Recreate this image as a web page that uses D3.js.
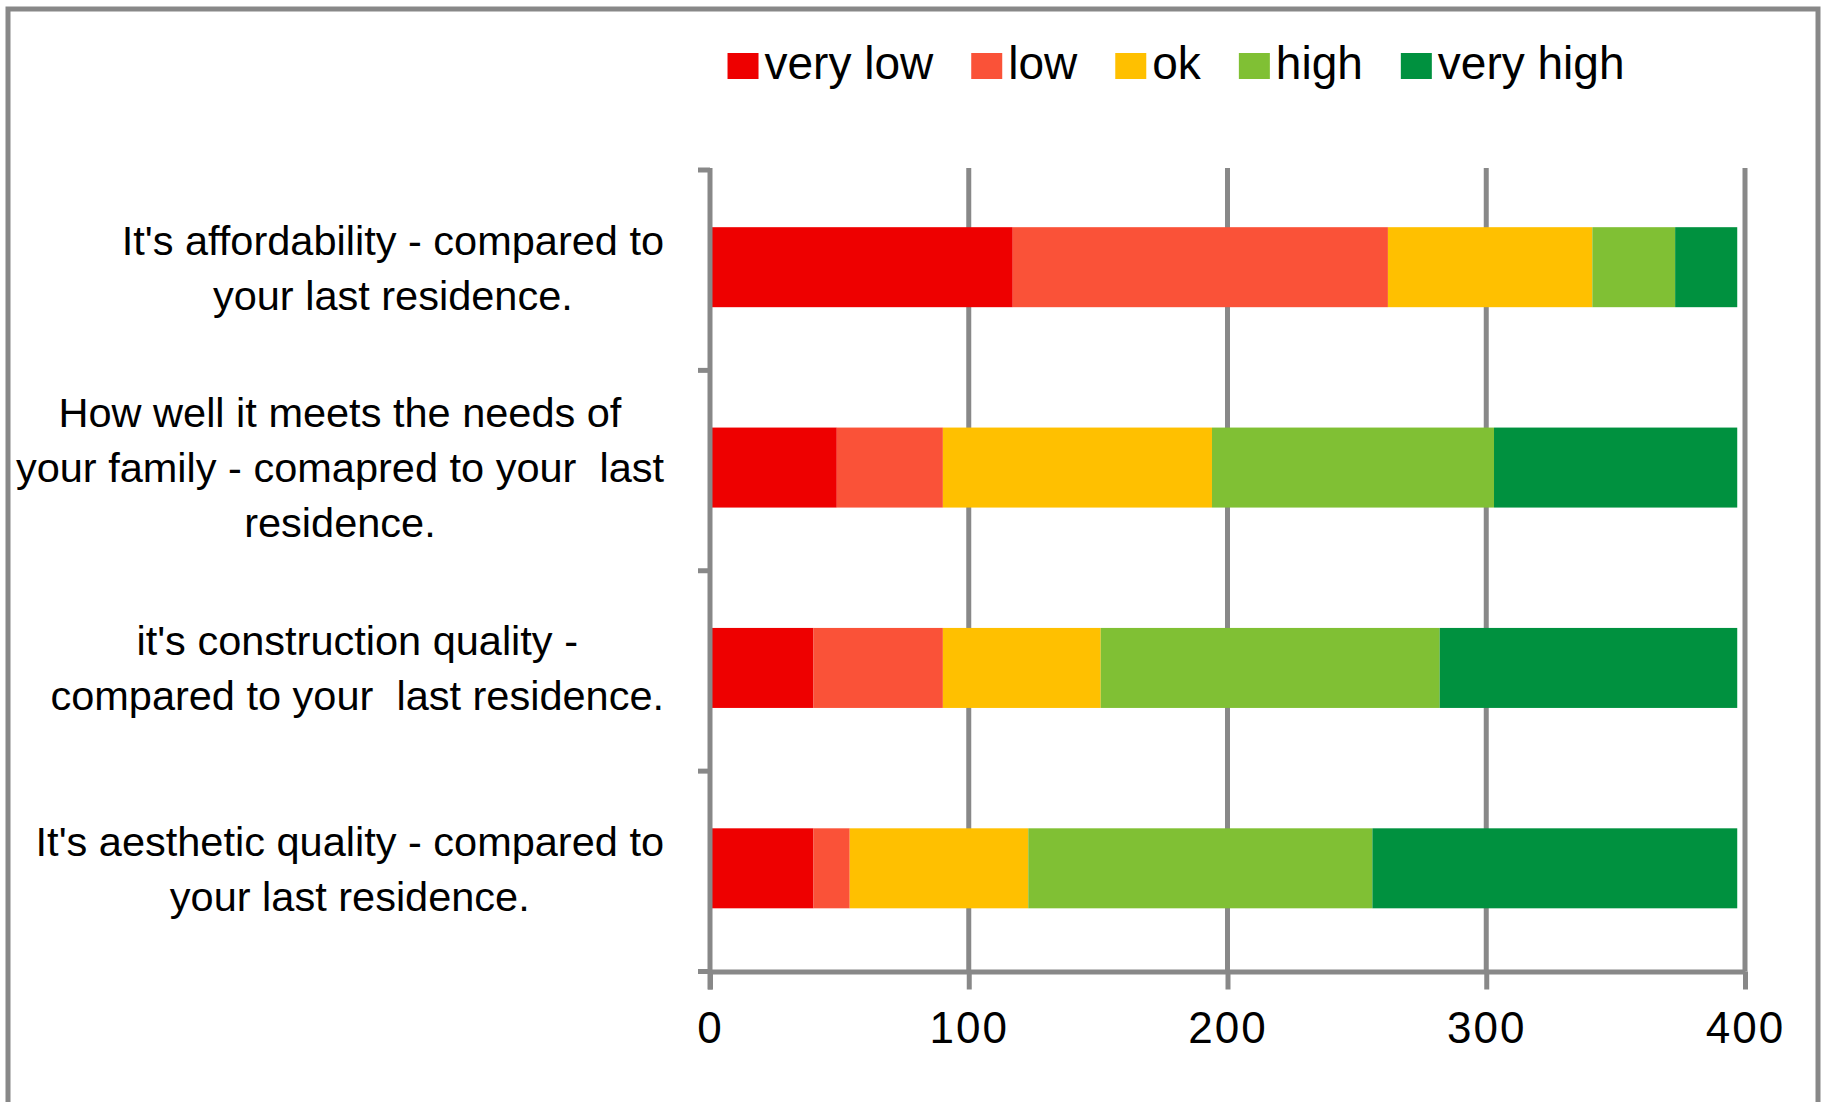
<!DOCTYPE html>
<html>
<head>
<meta charset="utf-8">
<script src="https://cdn.jsdelivr.net/npm/d3@7/dist/d3.min.js"></script>
<style>
  html, body { margin: 0; padding: 0; background: #fff; }
  svg { display: block; }
  text { font-family: "Liberation Sans", Arial, sans-serif; fill: #000; }
</style>
</head>
<body>
<svg id="chart" width="1823" height="1102"></svg>
<script>
// ---- data ----
const categories = [
  "It's affordability - compared to your last residence.",
  "How well it meets the needs of your family - comapred to your  last residence.",
  "it's construction quality - compared to your  last residence.",
  "It's aesthetic quality - compared to your last residence."
];
const categoryLines = [
  ["It's affordability - compared to", "your last residence."],
  ["How well it meets the needs of", "your family - comapred to your  last", "residence."],
  ["it's construction quality -", "compared to your  last residence."],
  ["It's aesthetic quality - compared to", "your last residence."]
];
const seriesNames = ["very low", "low", "ok", "high", "very high"];
const veryLow  = [117, 49, 40, 40];
const low      = [145, 41, 50, 14];
const ok       = [79, 104, 61, 69];
const high     = [32, 109, 131, 133];
const veryHigh = [24, 94, 115, 141];
const xTicks = [0, 100, 200, 300, 400];
const colors = ["#EE0000", "#FA5238", "#FFC000", "#80C034", "#00913F"];

const seriesValues = [veryLow, low, ok, high, veryHigh];
const table = categories.map((c, i) => {
  const row = { cat: c };
  seriesNames.forEach((s, j) => row[s] = seriesValues[j][i]);
  return row;
});

// ---- layout ----
const svg = d3.select("#chart");
const plot = { left: 710, right: 1745, top: 170, bottom: 971.5 };
const gray = "#888888";

// chart border
svg.append("rect")
  .attr("x", 8).attr("y", 9).attr("width", 1810).attr("height", 1120)
  .attr("fill", "none").attr("stroke", gray).attr("stroke-width", 5);

const x = d3.scaleLinear().domain([0, 400]).range([plot.left, plot.right]);
const y = d3.scaleBand().domain(categories).range([plot.top, plot.bottom]).padding(0);
const barH = 80;

// gridlines
svg.append("g").selectAll("line").data(xTicks.filter(t => t > 0)).join("line")
  .attr("x1", d => x(d)).attr("x2", d => x(d))
  .attr("y1", plot.top - 2).attr("y2", plot.bottom)
  .attr("stroke", gray).attr("stroke-width", 5);

// stacked bars
const stack = d3.stack().keys(seriesNames);
const stacked = stack(table);
svg.append("g").selectAll("g").data(stacked).join("g")
  .attr("fill", (d, i) => colors[i])
  .selectAll("rect").data(d => d).join("rect")
  .attr("x", d => x(d[0]))
  .attr("width", d => x(d[1]) - x(d[0]))
  .attr("y", d => y(d.data.cat) + y.bandwidth() / 2 - barH / 2 - 3)
  .attr("height", barH);

// x axis
const xAxis = d3.axisBottom(x).tickValues(xTicks).tickSizeInner(18).tickSizeOuter(0).tickPadding(22);
const gx = svg.append("g").attr("transform", `translate(0,${plot.bottom})`).call(xAxis);
gx.select(".domain").attr("stroke", gray).attr("stroke-width", 5);
gx.selectAll(".tick line").attr("stroke", gray).attr("stroke-width", 5);
gx.selectAll(".tick text")
  .style("font-family", '"Liberation Sans", Arial, sans-serif')
  .attr("font-size", 44).attr("fill", "#000").attr("letter-spacing", 2);
// axis extension to the left (bottom category tick)
svg.append("line")
  .attr("x1", plot.left - 12).attr("x2", plot.left)
  .attr("y1", plot.bottom).attr("y2", plot.bottom)
  .attr("stroke", gray).attr("stroke-width", 5);

// y axis
svg.append("line")
  .attr("x1", plot.left).attr("x2", plot.left)
  .attr("y1", plot.top - 2).attr("y2", plot.bottom + 18)
  .attr("stroke", gray).attr("stroke-width", 5);
const bounds = categories.map(c => y(c)).concat([y.range()[1]]);
svg.append("g").selectAll("line").data(bounds).join("line")
  .attr("x1", plot.left - 12).attr("x2", plot.left)
  .attr("y1", d => d).attr("y2", d => d)
  .attr("stroke", gray).attr("stroke-width", 5);

// category labels
const labFont = 41.5, lineH = 55, capH = labFont * 0.716, rightEdge = 664;
categories.forEach((c, i) => {
  const lines = categoryLines[i];
  const g = svg.append("g");
  const cy = y(c) + y.bandwidth() / 2 - 3;
  const texts = g.selectAll("text").data(lines).join("text")
    .attr("font-size", labFont)
    .attr("text-anchor", "middle")
    .style("white-space", "pre")
    .attr("y", (d, k) => cy - (lines.length - 1) * lineH / 2 + capH / 2 + k * lineH)
    .text(d => d);
  let maxW = 0;
  texts.each(function() { maxW = Math.max(maxW, this.getComputedTextLength()); });
  texts.attr("x", rightEdge - maxW / 2);
});

// legend
const legFont = 46, sw = 31, shH = 26, swGap = 6, itemGap = 38, legBase = 79;
const lg = svg.append("g");
const items = lg.selectAll("g").data(seriesNames).join("g");
items.append("rect").attr("width", sw).attr("height", shH)
  .attr("y", legBase - shH).attr("fill", (d, i) => colors[i]);
items.append("text").attr("font-size", legFont).attr("x", sw + swGap).attr("y", legBase).text(d => d);
let widths = [];
items.select("text").each(function() { widths.push(this.getComputedTextLength()); });
const total = d3.sum(widths) + seriesNames.length * (sw + swGap) + (seriesNames.length - 1) * itemGap;
let cx = 1176 - total / 2;
items.attr("transform", (d, i) => {
  const t = `translate(${cx},0)`;
  cx += sw + swGap + widths[i] + itemGap;
  return t;
});
</script>
</body>
</html>
